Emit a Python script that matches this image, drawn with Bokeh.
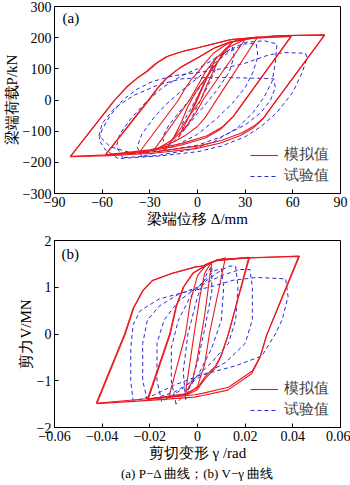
from bokeh.plotting import figure
from bokeh.models import Label, Legend, LegendItem, FixedTicker, CustomJSTickFormatter, Title
from bokeh.layouts import column
from bokeh.embed import file_html
from bokeh.resources import INLINE

# ---------------- Panel (a): P-Delta ----------------
a_x_ticks = [-90, -60, -30, 0, 30, 60, 90]
a_y_ticks = [-300, -200, -100, 0, 100, 200, 300]

# simulated loops (red)
a_sim80_x = [-80, -53, -45, -38, -33, -27, -20, -10, 0, 20, 50, 80, 47, 42, 36, 28, 15, 0, -27, -55, -80]
a_sim80_y = [-181, -5, 40, 70, 88, 115, 138, 155, 167, 193, 206, 209, -20, -55, -82, -105, -130, -148, -166, -176, -181]
a_sim80b_x = [-80, -52, -44, -37, -31, -25, -18, -8, 2, 22, 52, 80, 46, 41, 35, 27, 14, -1, -28, -56, -80]
a_sim80b_y = [-182, 0, 44, 74, 94, 120, 142, 158, 170, 195, 207, 208, -26, -62, -90, -114, -139, -156, -171, -179, -182]
a_sim60_x = [-58, -31, -25, -20, -12, -5, 0, 10, 20, 35, 59, 28, 23, 16, 6, -10, -30, -58]
a_sim60_y = [-176, 0, 40, 68, 100, 120, 135, 165, 185, 198, 205, -15, -50, -85, -115, -140, -160, -176]
a_sim60b_x = [-58, -30, -24, -19, -11, -4, 1, 11, 21, 36, 59, 27, 22, 15, 5, -11, -31, -58]
a_sim60b_y = [-177, 3, 44, 72, 104, 124, 138, 168, 187, 199, 204, -20, -56, -92, -122, -146, -164, -177]
a_sim40_x = [-37, -12, -8, -4, 0, 5, 10, 18, 25, 38, 10, 5, 0, -8, -15, -25, -37]
a_sim40_y = [-171, 0, 35, 65, 88, 120, 150, 178, 192, 203, -15, -55, -85, -115, -135, -155, -171]
a_sim30_x = [-28, -5, 0, 5, 10, 18, 30, 4, -1, -7, -15, -28]
a_sim30_y = [-165, 0, 45, 90, 125, 165, 195, 5, -40, -85, -125, -165]
a_sim20_x = [-20, 2, 7, 12, 17, 22, 0, -6, -10, -15, -20]
a_sim20_y = [-158, 0, 60, 115, 160, 186, 35, -20, -70, -120, -158]
a_sim10_x = [-12, -1, 5, 12, 1, -5, -12]
a_sim10_y = [-120, -10, 60, 140, 20, -50, -120]

# test loops (blue dashed)
a_test1_x = [-50, -58, -62, -60, -55, -47, -38, -28, -15, 0, 15, 30, 45, 55, 68, 69, 66, 60, 50, 40, 30, 15, 0, -25, -50]
a_test1_y = [-188, -160, -128, -95, -50, 0, 35, 60, 78, 88, 100, 118, 145, 152, 150, 135, 90, 25, -40, -85, -118, -148, -166, -180, -188]
a_test2_x = [-47, -51, -49, -42, -33, -22, -10, 0, 10, 20, 30, 42, 50, 49, 47, 42, 35, 25, 10, -5, -25, -47]
a_test2_y = [-185, -150, -110, -60, -10, 40, 78, 100, 130, 160, 185, 190, 180, 120, 60, 10, -40, -90, -135, -160, -178, -185]
a_test3_x = [-35, -38, -35, -28, -20, -10, 0, 10, 20, 30, 37, 38, 35, 30, 22, 12, 0, -15, -35]
a_test3_y = [-182, -150, -110, -60, -15, 30, 70, 115, 155, 180, 182, 140, 90, 40, -10, -60, -110, -150, -182]
a_test4_x = [-62, -60, -52, -40, -25, -10, 5, 18, 35, 48, 49, 46, 40, 30, 15, 0, -20, -40, -55, -62]
a_test4_y = [-115, -75, -25, 15, 48, 68, 72, 72, 70, 68, 40, 0, -40, -80, -118, -145, -162, -172, -150, -115]
a_test5_x = [-20, -22, -18, -10, 0, 8, 15, 22, 23, 20, 12, 4, -5, -12, -20]
a_test5_y = [-155, -120, -80, -30, 30, 90, 140, 170, 140, 90, 30, -20, -75, -120, -155]
a_test6_x = [-9, -10, -5, 0, 5, 10, 11, 7, 2, -3, -9]
a_test6_y = [-100, -80, -35, 10, 60, 110, 95, 50, 0, -50, -100]

# ---------------- Panel (b): V-gamma ----------------
b_x_ticks = [-0.06, -0.04, -0.02, 0, 0.02, 0.04, 0.06]
b_y_ticks = [-2, -1, 0, 1, 2]

b_sim43_x = [-0.0425, -0.0306, -0.027, -0.023, -0.019, -0.011, -0.001, 0.002, 0.008, 0.02, 0.0425, 0.0292, 0.0264, 0.023, 0.013, 0.002, -0.001, -0.02, -0.0425]
b_sim43_y = [-1.48, 0.0, 0.55, 0.93, 1.14, 1.29, 1.43, 1.45, 1.57, 1.62, 1.67, 0.0, -0.47, -0.79, -1.14, -1.27, -1.30, -1.38, -1.48]
b_sim43b_x = [-0.0422, -0.0303, -0.0267, -0.0227, -0.0187, -0.0107, -0.0007, 0.0023, 0.0083, 0.0203, 0.0428, 0.0289, 0.0261, 0.0227, 0.0127, 0.0017, -0.0013, -0.0203, -0.0422]
b_sim43b_y = [-1.49, 0.0, 0.56, 0.94, 1.15, 1.30, 1.44, 1.46, 1.58, 1.63, 1.66, -0.04, -0.52, -0.85, -1.20, -1.32, -1.35, -1.42, -1.49]
b_sim21_x = [-0.021, -0.0117, -0.009, -0.006, -0.002, 0.003, 0.008, 0.0215, 0.013, 0.01, 0.0076, 0.0034, 0.0, -0.005, -0.021]
b_sim21_y = [-1.39, 0.0, 0.6, 1.0, 1.3, 1.45, 1.58, 1.64, 0.0, -0.45, -0.68, -0.9, -1.15, -1.28, -1.39]
b_sim21b_x = [-0.0207, -0.0114, -0.0087, -0.0057, -0.0017, 0.0033, 0.0083, 0.0218, 0.0127, 0.0097, 0.0073, 0.0031, -0.0003, -0.0053, -0.0207]
b_sim21b_y = [-1.40, 0.0, 0.61, 1.01, 1.31, 1.46, 1.59, 1.63, -0.04, -0.5, -0.74, -0.96, -1.2, -1.32, -1.40]
b_sim12_x = [-0.012, -0.005, -0.003, 0.0, 0.004, 0.0117, 0.005, 0.003, 0.0, -0.004, -0.012]
b_sim12_y = [-1.35, 0.0, 0.7, 1.25, 1.5, 1.63, 0.0, -0.65, -1.12, -1.28, -1.35]
b_sim5_x = [-0.005, -0.002, 0.001, 0.003, 0.006, 0.003, 0.0, -0.002, -0.005]
b_sim5_y = [-1.25, -0.2, 0.8, 1.3, 1.55, 0.4, -0.5, -1.0, -1.25]

b_test1_x = [-0.027, -0.028, -0.028, -0.027, -0.024, -0.016, -0.005, 0.005, 0.015, 0.025, 0.037, 0.038, 0.0355, 0.0327, 0.027, 0.016, 0.0, -0.01, -0.018, -0.027]
b_test1_y = [-1.45, -1.0, -0.3, 0.2, 0.5, 0.75, 0.9, 1.0, 1.15, 1.21, 1.18, 0.8, 0.3, 0.0, -0.47, -0.68, -0.9, -1.1, -1.3, -1.45]
b_test2_x = [-0.021, -0.023, -0.023, -0.021, -0.016, -0.008, 0.0, 0.01, 0.018, 0.022, 0.023, 0.023, 0.02, 0.012, 0.0, -0.01, -0.021]
b_test2_y = [-1.42, -1.0, -0.2, 0.3, 0.6, 0.85, 1.0, 1.25, 1.38, 1.38, 1.0, 0.3, -0.2, -0.6, -0.95, -1.25, -1.42]
b_test3_x = [-0.015, -0.017, -0.017, -0.014, -0.008, 0.0, 0.008, 0.013, 0.016, 0.017, 0.016, 0.013, 0.006, 0.0, -0.007, -0.015]
b_test3_y = [-1.45, -1.0, -0.2, 0.3, 0.7, 1.0, 1.3, 1.45, 1.45, 1.0, 0.3, -0.2, -0.6, -0.9, -1.2, -1.45]
b_test4_x = [-0.009, -0.011, -0.011, -0.008, -0.003, 0.002, 0.007, 0.01, 0.011, 0.01, 0.006, 0.001, -0.004, -0.009]
b_test4_y = [-1.5, -1.0, -0.3, 0.3, 0.8, 1.1, 1.35, 1.4, 1.0, 0.3, -0.3, -0.8, -1.2, -1.5]
b_test5_x = [-0.005, -0.006, -0.004, 0.0, 0.004, 0.006, 0.006, 0.003, 0.0, -0.003, -0.005]
b_test5_y = [-1.4, -0.8, 0.0, 0.8, 1.3, 1.45, 0.9, 0.1, -0.6, -1.1, -1.4]

RED = "#e8191f"
BLUE = "#2a2ad8"
SERIF = "Liberation Serif"


def make_panel(xr, yr, xt, yt, xfmt, yfmt, sims, tests, xlabel, ylabel, tag, tag_pos, top, bottom):
    p = figure(frame_width=286, frame_height=187, x_range=xr, y_range=yr,
               output_backend="svg", toolbar_location=None,
               min_border_left=54, min_border_right=10, min_border_top=top, min_border_bottom=bottom)
    p.grid.visible = False
    p.outline_line_color = "black"
    p.outline_line_width = 1
    p.background_fill_color = "white"
    p.border_fill_color = "white"
    for ax, ticks, code in ((p.xaxis[0], xt, xfmt), (p.yaxis[0], yt, yfmt)):
        ax.ticker = FixedTicker(ticks=ticks)
        ax.formatter = CustomJSTickFormatter(code=code)
        ax.major_tick_in = 4
        ax.major_tick_out = 0
        ax.minor_tick_line_color = None
        ax.axis_line_color = "black"
        ax.major_tick_line_color = "black"
        ax.major_label_text_font = SERIF
        ax.major_label_text_font_size = "14px"
        ax.major_label_text_color = "black"
        ax.major_label_standoff = 3
        ax.axis_label_text_font = SERIF
        ax.axis_label_text_font_size = "15px"
        ax.axis_label_text_font_style = "normal"
        ax.axis_label_text_color = "black"
    p.xaxis.axis_label = xlabel
    p.xaxis.axis_label_standoff = 1
    p.yaxis.axis_label = ylabel
    p.yaxis.axis_label_standoff = 0

    r_test = p.multi_line(xs=[t[0] for t in tests], ys=[t[1] for t in tests], line_color=BLUE, line_width=1.0,
                          line_dash="4 3")
    r_sim = p.multi_line(xs=[s[0] for s in sims], ys=[s[1] for s in sims], line_color=RED, line_width=1.1)

    legend = Legend(items=[LegendItem(label="模拟值", renderers=[r_sim]),
                           LegendItem(label="试验值", renderers=[r_test])],
                    location=(196, 8), border_line_color=None, background_fill_alpha=0,
                    padding=0, margin=0, spacing=2, label_height=14, glyph_height=14, glyph_width=28,
                    label_standoff=6, label_text_font=SERIF, label_text_font_size="15px")
    p.add_layout(legend, "center")

    p.add_layout(Label(x=tag_pos[0], y=tag_pos[1], x_units="screen", y_units="screen", text=tag,
                       text_align="left", text_baseline="middle",
                       text_font=SERIF, text_font_size="15px", text_color="black"))
    return p


fmt_int = "return (tick < 0 ? '\\u2212' : '') + Math.abs(tick).toString();"
fmt_2 = "if (Math.abs(tick) < 1e-9) { return '0'; } return (tick < 0 ? '\\u2212' : '') + Math.abs(tick).toFixed(2);"

p1 = make_panel((-90, 90), (-300, 300), a_x_ticks, a_y_ticks, fmt_int, fmt_int,
                [(a_sim80_x, a_sim80_y), (a_sim80b_x, a_sim80b_y), (a_sim60_x, a_sim60_y),
                 (a_sim60b_x, a_sim60b_y), (a_sim40_x, a_sim40_y),
                 (a_sim30_x, a_sim30_y), (a_sim20_x, a_sim20_y), (a_sim10_x, a_sim10_y)],
                [(a_test1_x, a_test1_y), (a_test2_x, a_test2_y), (a_test3_x, a_test3_y),
                 (a_test4_x, a_test4_y), (a_test5_x, a_test5_y), (a_test6_x, a_test6_y)],
                "梁端位移 Δ/mm", "梁端荷载P/kN", "(a)", (8, 176), 6, 40)

p2 = make_panel((-0.06, 0.06), (-2, 2), b_x_ticks, b_y_ticks, fmt_2, fmt_int,
                [(b_sim43_x, b_sim43_y), (b_sim43b_x, b_sim43b_y), (b_sim21_x, b_sim21_y),
                 (b_sim21b_x, b_sim21b_y), (b_sim12_x, b_sim12_y), (b_sim5_x, b_sim5_y)],
                [(b_test1_x, b_test1_y), (b_test2_x, b_test2_y), (b_test3_x, b_test3_y),
                 (b_test4_x, b_test4_y), (b_test5_x, b_test5_y)],
                "剪切变形 γ /rad", "剪力V/MN", "(b)", (7, 174), 7, 56)
p2.add_layout(Title(text="(a) P−Δ 曲线；(b) V−γ 曲线", align="center", text_font=SERIF,
                    text_font_size="13px", text_font_style="normal", text_color="black",
                    standoff=0), "below")

layout = column(p1, p2, spacing=0)
open("out.html", "w").write(file_html(layout, INLINE))
